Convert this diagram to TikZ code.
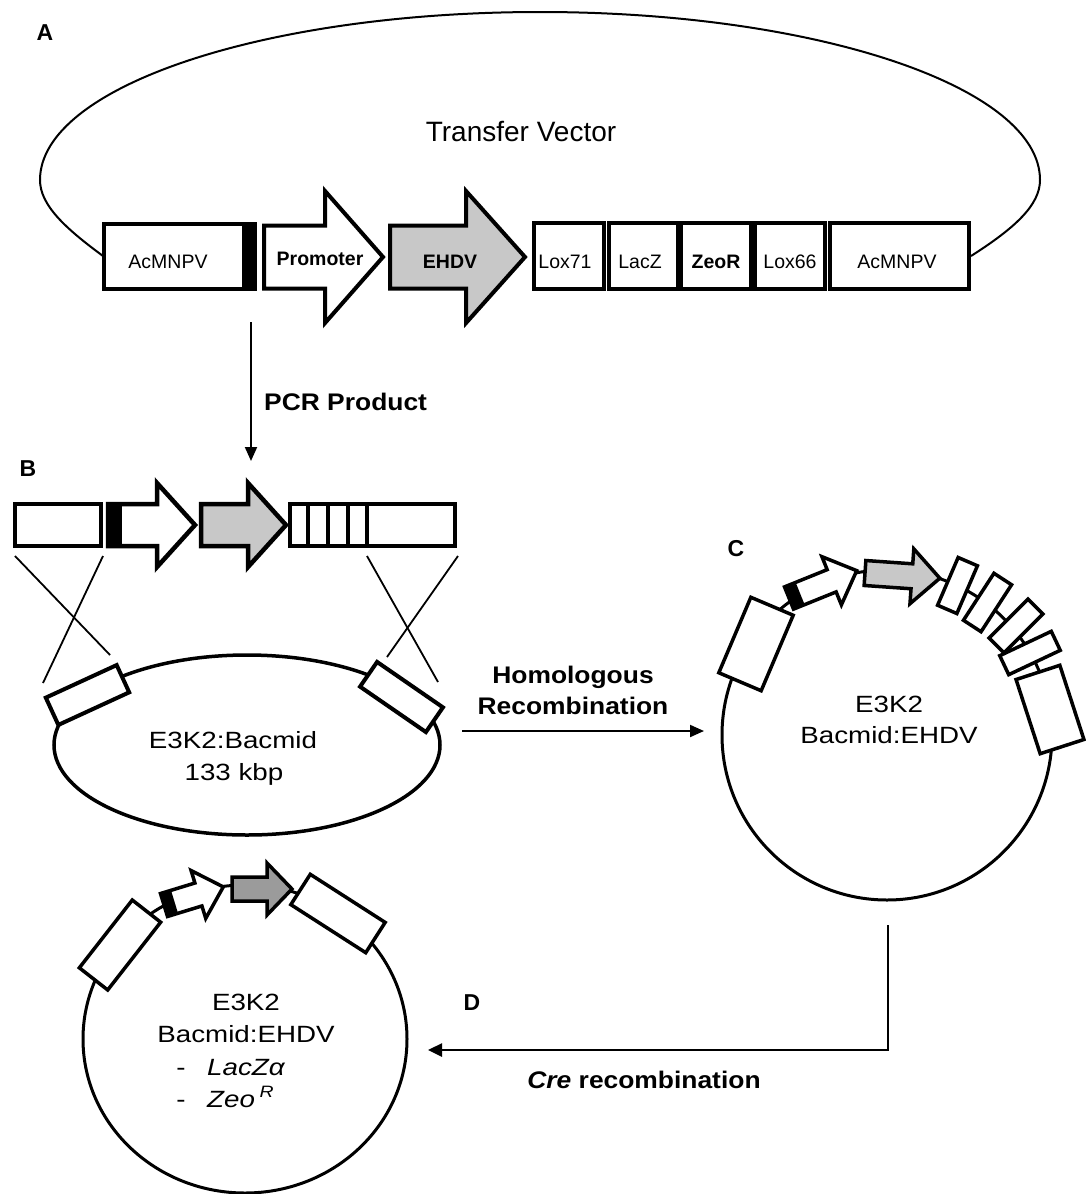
\documentclass[tikz,border=0pt]{standalone}
\usepackage{fontspec}
\setmainfont{Liberation Sans}
\usepackage{graphicx}
\usetikzlibrary{arrows.meta}
\definecolor{lgray}{RGB}{200,200,200}
\definecolor{dgray}{RGB}{155,155,155}
\def\alw{4}
% rotated rectangle: cx cy angle w h
\newcommand{\rbox}[5]{\draw[line width=\alw pt, fill=white, shift={(#1,#2)}, rotate=#3] ({-(#4)/2},{-(#5)/2}) rectangle ({(#4)/2},{(#5)/2});}
% block arrow: x y angle length bodyh headh headlen fill blacklen
\newcommand{\garrow}[9]{%
  \begin{scope}[shift={(#1,#2)},rotate=#3]
    \fill[#8] (0,{-(#5)/2}) -- ({#4-#7},{-(#5)/2}) -- ({#4-#7},{-(#6)/2}) -- (#4,0) -- ({#4-#7},{(#6)/2}) -- ({#4-#7},{(#5)/2}) -- (0,{(#5)/2}) -- cycle;
    \fill[black] (0,{-(#5)/2}) rectangle (#9,{(#5)/2});
    \draw[line width=\alw pt, line join=miter] (0,{-(#5)/2}) -- ({#4-#7},{-(#5)/2}) -- ({#4-#7},{-(#6)/2}) -- (#4,0) -- ({#4-#7},{(#6)/2}) -- ({#4-#7},{(#5)/2}) -- (0,{(#5)/2}) -- cycle;
  \end{scope}}
\newcommand{\wideR}[1]{\scalebox{1.18}[1]{#1}}
\newcommand{\wideB}[1]{\scalebox{1.1}[1]{#1}}
\tikzset{
  txt/.style={inner sep=0pt, anchor=base},
  rowlbl/.style={txt, font=\fontsize{19.5}{23}\selectfont},
  rowlblb/.style={txt, font=\fontsize{19.5}{23}\selectfont\bfseries},
  panel/.style={txt, font=\bfseries\fontsize{23}{27}\selectfont},
  steplbl/.style={txt, font=\fontsize{24}{28}\selectfont\bfseries},
  plasmid/.style={txt, font=\fontsize{23.5}{28}\selectfont},
  conn/.style={line width=2pt, -{Triangle[length=14pt,width=12pt]}},
}
\begin{document}
\begin{tikzpicture}[x=1pt,y=-1pt]
\useasboundingbox[fill=white] (0,0) rectangle (1085,1194);

% ---------------- A ----------------
\node[panel] (pA) at (45,40) {A};
\draw[line width=2pt] (103,256) .. controls (65,228) and (40,205) .. (40,180)
  .. controls (40,87) and (264,12) .. (540,12)
  .. controls (816,12) and (1040,87) .. (1040,180)
  .. controls (1040,205) and (1015,228) .. (971,256);
\node[txt, font=\fontsize{28}{32}\selectfont] (tv) at (521,141) {Transfer Vector};

\draw[line width=4pt, fill=white] (104,224) rectangle (244,289);
\fill[black] (243,222) rectangle (257,291);
\garrow{264}{257}{0}{119}{63}{132}{58}{white}{0}
\garrow{390}{257}{0}{135}{63}{132}{59}{lgray}{0}
\def\alw{4.5}
\draw[line width=\alw pt, fill=white] (534,223) rectangle (604,289);
\draw[line width=\alw pt, fill=white] (609,223) rectangle (678,289);
\draw[line width=\alw pt, fill=white] (681,223) rectangle (751,289);
\draw[line width=\alw pt, fill=white] (755,223) rectangle (825,289);
\draw[line width=\alw pt, fill=white] (830,223) rectangle (969,289);

\node[rowlbl] (lAc1) at (168,268) {AcMNPV};
\node[rowlblb] (lProm) at (320,265) {Promoter};
\node[rowlblb] (lEhdv) at (450,268) {EHDV};
\node[rowlbl] (lLox71) at (565,268) {Lox71};
\node[rowlbl] (lLacZ) at (640,268) {LacZ};
\node[rowlblb] (lZeoR) at (716,268) {ZeoR};
\node[rowlbl] (lLox66) at (790,268) {Lox66};
\node[rowlbl] (lAc2) at (897,268) {AcMNPV};

% PCR arrow
\coordinate (pcrS) at (251,322);
\coordinate (pcrE) at (251,461);
\draw[conn] (pcrS) -- (pcrE);
\node[steplbl, anchor=base west] (pcr) at (264,410) {\wideB{PCR Product}};

% ---------------- B ----------------
\node[panel] (pB) at (28,476) {B};
\def\alw{4.5}
\draw[line width=\alw pt, fill=white] (15,504) rectangle (101,546);
\garrow{108}{525}{0}{87}{42}{84}{38}{white}{14}
\garrow{201}{525}{0}{85}{42}{84}{38}{lgray}{0}
\draw[line width=\alw pt, fill=white] (290,504) rectangle (455,546);
\foreach \xx in {308,328,348,367} {\draw[line width=3.5pt] (\xx,504) -- (\xx,546);}

\draw[line width=1.8pt] (15,556) -- (110,655);
\draw[line width=1.8pt] (103,556) -- (43,683);
\draw[line width=1.8pt] (367,556) -- (438,682);
\draw[line width=1.8pt] (458,556) -- (387,657);

\draw[line width=3.5pt] (247,745) ellipse [x radius=193, y radius=90];
\def\alw{4}
\rbox{87.5}{695}{24.7}{78}{30}
\rbox{401.5}{697}{-34.6}{80}{30}
\node[plasmid] (bac1) at (233,748) {\wideR{E3K2:Bacmid}};
\node[plasmid] (bac2) at (234,780) {\wideR{133 kbp}};

% Homologous recombination arrow
\coordinate (homS) at (462,731);
\coordinate (homE) at (704,731);
\draw[conn] (homS) -- (homE);
\node[steplbl] (hom1) at (573,683) {\wideB{Homologous}};
\node[steplbl] (hom2) at (573,714) {\wideB{Recombination}};

% ---------------- C ----------------
\node[panel] (pC) at (736,556) {C};
\draw[line width=3pt] (887,735) circle [radius=165];
\def\alw{3.5}
\rbox{756}{644}{67}{82}{46}
\garrow{789}{598}{22}{73}{24}{52}{27}{white}{12}
\garrow{865}{573}{-4}{75}{25}{55}{28}{lgray}{0}
\rbox{957.5}{585.5}{66.7}{52}{21}
\rbox{987.5}{602.5}{57}{56}{21}
\rbox{1016}{626}{45}{55}{21}
\rbox{1030}{653}{25.3}{57}{21}
\rbox{1050}{709.5}{-72}{78}{46}
\node[plasmid] (c1) at (889,712) {\wideR{E3K2}};
\node[plasmid] (c2) at (889,743) {\wideR{Bacmid:EHDV}};

% Cre arrow
\coordinate (creS) at (888,925);
\coordinate (creC) at (888,1050);
\coordinate (creE) at (428,1050);
\draw[line width=2.5pt, -{Triangle[length=14pt,width=13pt]}] (creS) -- (creC) -- (creE);
\node[steplbl] (cre) at (644,1088) {\wideB{\textit{Cre} recombination}};
\node[panel] (pD) at (472,1010) {D};

% ---------------- D ----------------
\draw[line width=3pt] (245,1039) ellipse [x radius=162, y radius=154];
\def\alw{3.5}
\rbox{120}{945}{52}{86}{36}
\garrow{164}{905}{17}{62}{24}{50}{26}{white}{11}
\garrow{232}{889}{0}{60}{24}{52}{25}{dgray}{0}
\rbox{338}{913.5}{-32.7}{89}{36}
\node[plasmid] (d1) at (246,1010) {\wideR{E3K2}};
\node[plasmid] (d2) at (246,1042) {\wideR{Bacmid:EHDV}};
\node[plasmid] (d3a) at (181,1075) {\wideR{-}};
\node[plasmid, anchor=base west] (d3b) at (207,1075) {\wideR{\textit{LacZα}}};
\node[plasmid] (d4a) at (181,1107) {\wideR{-}};
\node[plasmid, anchor=base west] (d4b) at (207,1107) {\wideR{\textit{Zeo}\,\textsuperscript{\textit{R}}}};
\end{tikzpicture}
\end{document}
